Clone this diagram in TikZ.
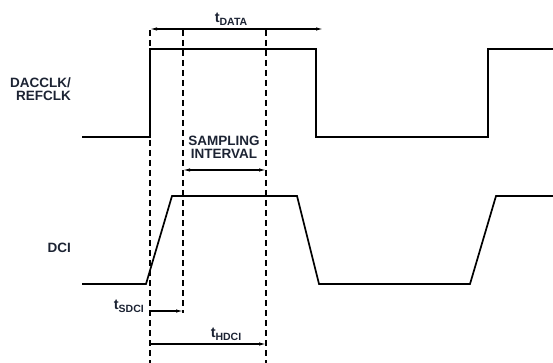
\documentclass[tikz,border=0pt]{standalone}
\usepackage{fontspec}
\setmainfont{Liberation Sans}
\usepackage{xcolor}
\usetikzlibrary{arrows.meta,positioning,calc}
\definecolor{ink}{HTML}{1C2333}
\newcommand{\tsub}[1]{t\raisebox{-3pt}{\fontsize{10.5}{10.5}\selectfont #1}}

\begin{document}
\begin{tikzpicture}[x=1pt,y=-1pt,
  clk/.style={line width=2.6pt,line join=miter},
  wave/.style={line width=1.7pt,line join=miter},
  guide/.style={dash pattern=on 6pt off 4pt,line width=1.2pt},
  dim/.style={line width=1.1pt},
  tip/.tip={Latex[length=7pt,width=3.4pt]},
  lbl/.style={font=\fontsize{13.5}{12.8}\selectfont\bfseries,text=ink,inner sep=0pt},
  tlbl/.style={lbl,font=\fontsize{14.5}{14}\selectfont\bfseries}]
 \useasboundingbox (0,0) rectangle (553,363);
 % waveforms
 \draw[clk] (82,137) -- (150,137) -- (150,49) -- (316,49) -- (316,137)
   -- (488,137) -- (488,49) -- (553,49);
 \draw[wave] (82,284) -- (146,284) -- (172,196) -- (297,196) -- (319,284)
   -- (470,284) -- (496,196) -- (553,196);
 % dashed guides
 \foreach \n/\x/\yb in {a/150/363, b/183/313, c/266/363} {
   \coordinate (g\n t) at (\x,30);
   \coordinate (g\n b) at (\x,\yb);
   \draw[guide] (g\n t) -- (g\n b);
 }
 % signal names
 \node[lbl,align=right,anchor=east] (clkname) at (71,89) {DACCLK/\\REFCLK};
 \node[lbl,anchor=east] (dciname) at (71,248) {DCI};
 % timing arrows
 \coordinate (dataL) at (150,29);
 \coordinate (dataR) at (323,29);
 \draw[dim,tip-tip] (dataL) -- (dataR);
 \node[tlbl] (tdata) at (231,19) {\tsub{DATA}};
 \coordinate (sampL) at (183,170);
 \coordinate (sampR) at (266,170);
 \draw[dim,tip-tip] (sampL) -- (sampR);
 \node[lbl,align=center] (samp) at (224,147) {SAMPLING\\INTERVAL};
 \coordinate (sdciL) at (150,311);
 \coordinate (sdciR) at (183,311);
 \draw[dim,-tip] (sdciL) -- (sdciR);
 \node[tlbl,anchor=east] (tsdci) at (144,306) {\tsub{SDCI}};
 \coordinate (hdciL) at (150,344);
 \coordinate (hdciR) at (266,344);
 \draw[dim,-tip] (hdciL) -- (hdciR);
 \node[tlbl] (thdci) at (226,334) {\tsub{HDCI}};
\end{tikzpicture}
\end{document}
